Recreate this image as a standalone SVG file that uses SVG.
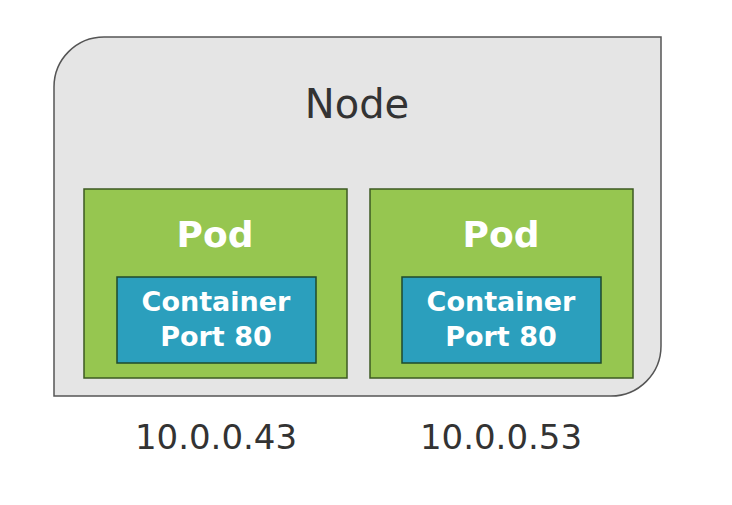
<svg xmlns="http://www.w3.org/2000/svg" width="732" height="505" viewBox="0 0 732 505">
<style>
.pod{fill:#96c650;stroke:#3d5a22;stroke-width:1.5}
.ctr{fill:#2b9fbd;stroke:#1f4a2c;stroke-width:1.5}
.w{font-family:"DejaVu Sans",Verdana,sans-serif;font-weight:bold;fill:#fff;text-anchor:middle}
.d{font-family:"DejaVu Sans",Verdana,sans-serif;fill:#333;text-anchor:middle}
</style>
<rect width="732" height="505" fill="#fff"/>
<g id="node">
<path d="M54,396 L54,87 A50,50 0 0 1 104,37 L661,37 L661,346 A50,50 0 0 1 611,396 Z" fill="#e5e5e5" stroke="#555" stroke-width="1.5"/>
<text class="d" x="357" y="118" font-size="40">Node</text>
</g>
<g id="pod1">
<rect class="pod" x="84" y="189" width="263" height="189"/>
<text class="w" x="215" y="247" font-size="36">Pod</text>
</g>
<g id="container1">
<rect class="ctr" x="117" y="277" width="199" height="86"/>
<text class="w" x="216" y="311" font-size="27">Container</text>
<text class="w" x="216" y="346" font-size="27">Port 80</text>
</g>
<g id="pod2">
<rect class="pod" x="370" y="189" width="263" height="189"/>
<text class="w" x="501" y="247" font-size="36">Pod</text>
</g>
<g id="container2">
<rect class="ctr" x="402" y="277" width="199" height="86"/>
<text class="w" x="501" y="311" font-size="27">Container</text>
<text class="w" x="501" y="346" font-size="27">Port 80</text>
</g>
<g id="ip1"><text class="d" x="216" y="449" font-size="34">10.0.0.43</text></g>
<g id="ip2"><text class="d" x="501" y="449" font-size="34">10.0.0.53</text></g>
<g id="connectors"></g>
</svg>
